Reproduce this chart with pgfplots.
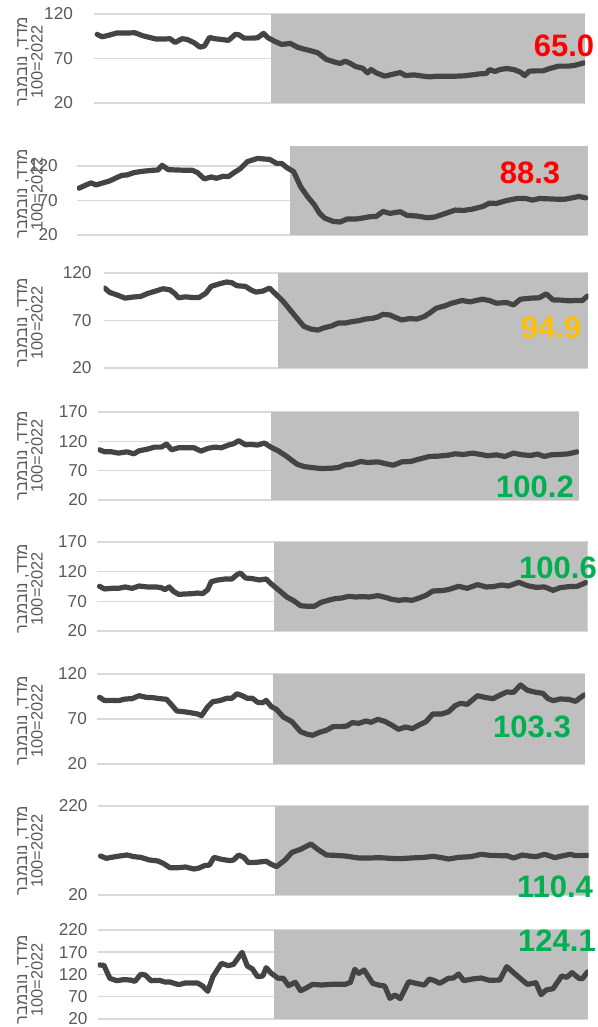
\documentclass[border=0pt]{standalone}
\usepackage{fontspec}
\setmainfont{Liberation Sans}
\newfontfamily\hebfont[Script=Hebrew]{Liberation Sans}
\usepackage{pgfplots}
\pgfplotsset{compat=1.18}
\TeXXeTstate=1

\definecolor{linegray}{HTML}{444444}
\definecolor{shadegray}{HTML}{BFBFBF}
\definecolor{gridgray}{HTML}{D9D9D9}
\definecolor{tickgray}{HTML}{595959}
\definecolor{valred}{HTML}{FF0000}
\definecolor{valorange}{HTML}{FFC000}
\definecolor{valgreen}{HTML}{00B050}

% x values are positions along a common time axis (same for all panels)
\pgfplotsset{
  panel/.style={
    scale only axis, anchor=south west,
    xtick=\empty, axis line style={draw=none}, major tick length=0pt,
    ymajorgrids, grid style={gridgray, line width=0.75pt},
    yticklabel style={font=\fontsize{8.6}{10}\selectfont, text=tickgray, xshift=-1.6pt},
    /pgf/number format/assume math mode=true,
  },
}
\tikzset{
  shade/.style={fill=shadegray, draw=none},
  dataline/.style={draw=linegray, line width=2.6pt, line join=round, line cap=round, mark=none},
  vallabel/.style={font=\fontsize{15.5}{18}\selectfont\bfseries},
  ylab/.style={rotate=90, align=center, text=tickgray, font=\fontsize{8.2}{7.8}\selectfont},
}
\newcommand{\heblabel}{\hebfont\beginR מדד, נובמבר\endR\\100=2022}

\begin{document}
\begin{tikzpicture}
\useasboundingbox (0,0) rectangle (299pt,513.5pt);

% panel 1
\begin{axis}[panel, at={(47.2pt,462pt)}, width=245.4pt, height=44.5pt,
  xmin=100, xmax=1528, ymin=20, ymax=120, ytick={20,70,120},
  yticklabel style={xshift=-5.6pt}]
\addplot[shade] coordinates {(615,20) (1528,20) (1528,120) (615,120)};
\addplot[dataline] coordinates {(108,97.1) (122,94.4) (140,95.9) (165,98.6) (190,98.6) (218,98.9) (240,95.6) (260,93.7) (280,91.8) (300,91.8) (320,92.2) (335,88.0) (355,92.2) (370,91.4) (390,87.7) (407,82.8) (420,83.9) (435,93.7) (450,92.2) (470,91.4) (490,90.3) (510,97.1) (520,96.7) (535,92.9) (560,92.9) (575,93.3) (592,98.2) (605,93.3) (625,89.2) (645,85.8) (670,86.9) (690,82.8) (710,80.5) (730,78.6) (750,76.4) (775,68.9) (800,65.9) (815,64.4) (830,67.0) (845,64.4) (860,61.0) (880,59.1) (895,53.8) (905,57.6) (920,53.8) (945,50.1) (965,52.0) (990,54.2) (1005,50.8) (1030,51.6) (1050,50.5) (1075,49.3) (1095,50.1) (1120,50.1) (1150,50.1) (1175,50.5) (1200,51.6) (1220,52.7) (1240,53.1) (1250,57.6) (1265,55.3) (1280,57.6) (1300,58.7) (1320,57.6) (1340,54.6) (1352,50.8) (1365,55.7) (1385,56.1) (1405,56.1) (1425,58.7) (1450,61.4) (1480,61.4) (1500,62.5) (1525,65.1)};
\end{axis}

% panel 2
\begin{axis}[panel, at={(38.6pt,396pt)}, width=255.5pt, height=44.5pt,
  xmin=50, xmax=1537, ymin=20, ymax=149, ytick={20,70,120},
  yticklabel style={xshift=-4.6pt}]
\addplot[shade] coordinates {(670,20) (1537,20) (1537,149) (670,149)};
\addplot[dataline] coordinates {(55,87.8) (70,91.2) (90,95.5) (105,92.6) (125,95.5) (145,98.4) (165,103.2) (180,106.5) (195,107.0) (215,110.4) (240,112.3) (270,113.8) (285,114.2) (297,121.0) (315,114.7) (340,114.2) (365,113.8) (385,113.8) (400,110.4) (420,101.3) (440,104.1) (455,102.2) (475,105.1) (490,104.6) (505,109.9) (525,116.2) (545,126.3) (575,131.0) (595,130.1) (610,129.6) (630,123.8) (645,123.8) (660,117.6) (680,111.8) (700,90.2) (720,75.8) (740,63.8) (755,51.7) (770,44.5) (795,39.7) (815,38.8) (835,43.1) (860,43.1) (880,44.5) (900,46.4) (920,46.9) (940,54.1) (960,51.3) (990,53.7) (1010,48.4) (1040,47.4) (1070,45.0) (1090,46.0) (1110,49.3) (1130,52.7) (1150,56.1) (1175,55.6) (1200,57.5) (1230,61.3) (1250,66.2) (1270,65.7) (1300,70.0) (1330,72.9) (1355,72.9) (1375,70.5) (1395,72.9) (1420,72.4) (1445,71.9) (1470,71.9) (1490,73.8) (1510,75.8) (1530,73.8)};
\end{axis}

% panel 3
\begin{axis}[panel, at={(51.8pt,329.5pt)}, width=242.4pt, height=47.5pt,
  xmin=127, xmax=1538, ymin=20, ymax=120, ytick={20,70,120},
  yticklabel style={xshift=-0.9pt}]
\addplot[shade] coordinates {(635,20) (1538,20) (1538,120) (635,120)};
\addplot[dataline] coordinates {(130,104.1) (145,99.5) (165,97.0) (190,93.5) (210,94.6) (235,95.3) (255,98.4) (275,100.6) (300,103.4) (320,102.3) (335,98.1) (345,93.9) (365,94.9) (385,94.2) (405,94.2) (425,98.8) (440,105.9) (465,108.7) (485,110.5) (500,109.8) (515,106.6) (540,105.9) (555,102.3) (570,99.9) (590,100.9) (610,104.1) (625,98.8) (650,90.0) (670,81.1) (690,72.3) (710,63.8) (730,61.0) (750,59.9) (770,62.4) (790,64.2) (810,67.3) (830,67.3) (850,68.8) (870,69.8) (890,71.6) (910,72.3) (925,73.7) (940,76.5) (960,75.8) (975,73.4) (995,70.5) (1015,71.9) (1040,71.6) (1060,74.1) (1075,77.6) (1095,82.9) (1120,85.4) (1140,88.2) (1170,91.0) (1195,89.6) (1210,91.0) (1230,92.4) (1250,91.0) (1270,88.2) (1300,88.9) (1320,86.4) (1340,92.4) (1370,93.5) (1395,93.9) (1415,98.1) (1435,91.7) (1460,91.4) (1480,90.7) (1500,91.0) (1520,91.0) (1535,95.6)};
\end{axis}

% panel 4
\begin{axis}[panel, at={(48.9pt,263.5pt)}, width=240.5pt, height=44pt,
  xmin=110, xmax=1510, ymin=20, ymax=170, ytick={20,70,120,170}]
\addplot[shade] coordinates {(614,20) (1510,20) (1510,170) (614,170)};
\addplot[dataline] coordinates {(115,105.6) (130,102.1) (150,102.1) (170,99.9) (195,102.1) (215,98.7) (230,103.9) (255,106.7) (275,110.1) (295,110.1) (310,115.3) (325,105.6) (345,109.0) (365,109.0) (390,109.0) (410,103.3) (430,107.8) (450,110.1) (470,109.0) (490,113.6) (505,115.8) (520,121.0) (540,114.1) (555,114.7) (575,113.6) (595,117.0) (615,109.6) (635,103.9) (660,94.2) (690,81.0) (710,77.0) (740,74.8) (760,73.6) (790,74.2) (810,75.3) (830,79.9) (850,81.0) (875,85.6) (895,83.9) (925,85.0) (950,81.6) (970,79.3) (995,85.0) (1020,85.6) (1045,89.6) (1075,94.2) (1100,94.7) (1130,96.4) (1150,98.7) (1175,97.6) (1200,99.9) (1225,97.6) (1245,95.3) (1270,97.0) (1295,94.2) (1320,99.9) (1345,97.0) (1370,95.9) (1390,98.2) (1410,94.2) (1430,97.0) (1455,97.6) (1480,98.7) (1505,102.1)};
\end{axis}

% panel 5
\begin{axis}[panel, at={(48.55pt,198pt)}, width=245.2pt, height=44.5pt,
  xmin=108, xmax=1535, ymin=20, ymax=170, ytick={20,70,120,170}]
\addplot[shade] coordinates {(622,20) (1535,20) (1535,170) (622,170)};
\addplot[dataline] coordinates {(115,95.3) (130,90.8) (150,91.9) (170,91.9) (190,94.2) (210,91.9) (230,95.8) (255,94.2) (280,94.2) (295,93.0) (305,89.7) (318,94.2) (330,86.9) (345,81.8) (365,82.4) (385,82.9) (400,84.0) (415,82.9) (430,89.7) (440,103.1) (460,106.0) (480,107.6) (500,107.6) (515,114.9) (525,117.8) (540,109.3) (560,108.2) (580,106.0) (600,107.6) (615,99.2) (635,89.7) (660,77.3) (680,71.1) (700,62.7) (720,61.6) (740,61.6) (760,68.3) (780,71.7) (800,74.5) (820,75.6) (840,78.4) (860,77.3) (880,77.9) (900,77.3) (925,79.6) (950,76.2) (965,73.4) (985,71.7) (1005,72.8) (1025,71.7) (1045,75.6) (1065,80.1) (1085,87.4) (1110,88.0) (1130,89.7) (1160,95.3) (1185,91.9) (1215,98.1) (1240,94.2) (1260,94.7) (1285,97.5) (1305,95.8) (1335,102.0) (1360,96.4) (1385,93.6) (1410,94.2) (1435,88.5) (1455,93.0) (1480,94.7) (1505,95.3) (1530,101.5)};
\end{axis}

% panel 6
\begin{axis}[panel, at={(48.55pt,131.5pt)}, width=244pt, height=45pt,
  xmin=108, xmax=1528, ymin=20, ymax=120, ytick={20,70,120}]
\addplot[shade] coordinates {(620,20) (1528,20) (1528,120) (620,120)};
\addplot[dataline] coordinates {(115,94.1) (130,90.4) (150,90.7) (170,90.4) (190,92.2) (210,92.6) (230,95.9) (250,94.1) (270,93.7) (290,92.6) (310,91.9) (325,85.6) (340,78.9) (360,78.1) (380,77.0) (400,75.6) (412,73.7) (430,83.7) (445,89.3) (465,90.4) (485,93.0) (500,93.0) (515,98.1) (530,95.9) (545,93.0) (560,93.0) (575,88.5) (590,88.1) (600,90.7) (615,83.7) (630,80.7) (650,72.2) (675,67.0) (700,55.9) (720,53.0) (735,51.9) (755,55.2) (775,57.4) (795,61.5) (815,61.5) (835,62.2) (850,65.9) (870,65.2) (890,67.8) (905,66.3) (925,69.6) (945,67.4) (965,63.3) (985,58.5) (1005,61.1) (1025,59.3) (1045,63.3) (1065,67.0) (1085,75.6) (1110,75.6) (1130,77.8) (1150,84.8) (1165,87.4) (1185,86.3) (1215,95.9) (1240,93.7) (1260,92.6) (1285,97.4) (1300,100.0) (1320,99.6) (1340,107.8) (1360,101.9) (1385,99.6) (1405,98.5) (1420,92.6) (1435,90.4) (1455,92.2) (1480,91.9) (1500,89.6) (1525,96.7)};
\end{axis}

% panel 7
\begin{axis}[panel, at={(48.9pt,66pt)}, width=245.4pt, height=44.5pt,
  xmin=110, xmax=1538, ymin=20, ymax=220, ytick={20,220}]
\addplot[shade] coordinates {(626,20) (1538,20) (1538,220) (626,220)};
\addplot[dataline] coordinates {(118,107.6) (135,102.4) (160,106.1) (195,109.9) (215,106.1) (235,104.6) (260,98.7) (285,96.4) (300,91.2) (320,81.4) (345,81.4) (365,82.9) (390,78.4) (405,80.7) (420,85.9) (435,87.4) (448,104.6) (470,100.1) (495,97.2) (505,98.7) (520,109.9) (535,104.6) (548,92.7) (570,93.4) (600,95.7) (615,88.9) (630,83.7) (655,98.7) (675,115.9) (700,122.6) (730,134.6) (750,122.6) (775,109.9) (800,109.1) (830,107.6) (870,103.1) (900,103.1) (930,103.9) (960,102.4) (990,101.6) (1020,103.1) (1060,104.6) (1085,106.9) (1110,103.9) (1130,100.9) (1160,104.6) (1195,106.1) (1225,111.4) (1250,109.1) (1280,108.4) (1300,108.4) (1320,103.1) (1345,109.9) (1365,107.6) (1385,106.1) (1410,111.4) (1440,103.9) (1460,107.6) (1485,111.4) (1500,108.4) (1535,109.1)};
\end{axis}

% panel 8
\begin{axis}[panel, at={(48.9pt,4pt)}, width=245pt, height=44.5pt,
  xmin=110, xmax=1536, ymin=20, ymax=220, ytick={20,70,120,170,220}]
\addplot[shade] coordinates {(624,20) (1536,20) (1536,220) (624,220)};
\addplot[dataline] coordinates {(115,141.3) (128,140.6) (145,111.4) (165,106.1) (185,108.4) (205,107.6) (218,104.6) (235,120.4) (248,118.9) (265,106.1) (290,106.9) (305,103.1) (320,103.1) (345,97.2) (365,100.9) (400,100.9) (415,94.2) (430,82.2) (445,115.1) (470,145.1) (490,139.9) (505,142.8) (530,169.8) (545,139.1) (560,132.4) (575,115.1) (590,116.6) (600,135.4) (615,122.6) (635,111.4) (650,111.4) (665,94.9) (685,102.4) (700,83.7) (715,88.9) (735,97.9) (760,96.4) (790,97.9) (830,97.9) (845,102.4) (858,131.6) (870,122.6) (885,130.1) (910,100.1) (930,95.7) (945,94.2) (960,66.4) (975,73.9) (990,65.7) (1015,103.9) (1040,99.4) (1060,96.4) (1075,109.9) (1090,106.1) (1105,100.1) (1130,111.4) (1145,112.1) (1160,121.1) (1175,106.1) (1200,109.9) (1225,112.1) (1250,106.9) (1280,107.6) (1300,137.6) (1320,124.1) (1345,107.6) (1360,97.9) (1385,101.6) (1400,74.7) (1415,85.2) (1435,88.2) (1460,116.6) (1475,113.6) (1490,124.1) (1510,111.4) (1520,110.6) (1535,125.6)};
\end{axis}

% y labels
\foreach \yy in {482.5,416.5,352.2,285.5,219.2,153,88,23.5}
  \node[ylab] at (15pt,\yy pt) {\heblabel};

% latest values
\node[vallabel, text=valred]    at (282pt,490.5pt) {65.0};
\node[vallabel, text=valred]    at (265pt,427pt)   {88.3};
\node[vallabel, text=valorange] at (275.5pt,349.5pt) {94.9};
\node[vallabel, text=valgreen]  at (267.5pt,270pt) {100.2};
\node[vallabel, text=valgreen]  at (279pt,229.5pt) {100.6};
\node[vallabel, text=valgreen]  at (266pt,150pt)   {103.3};
\node[vallabel, text=valgreen]  at (277.5pt,70pt)  {110.4};
\node[vallabel, text=valgreen]  at (278.5pt,43pt)  {124.1};
\end{tikzpicture}
\end{document}
